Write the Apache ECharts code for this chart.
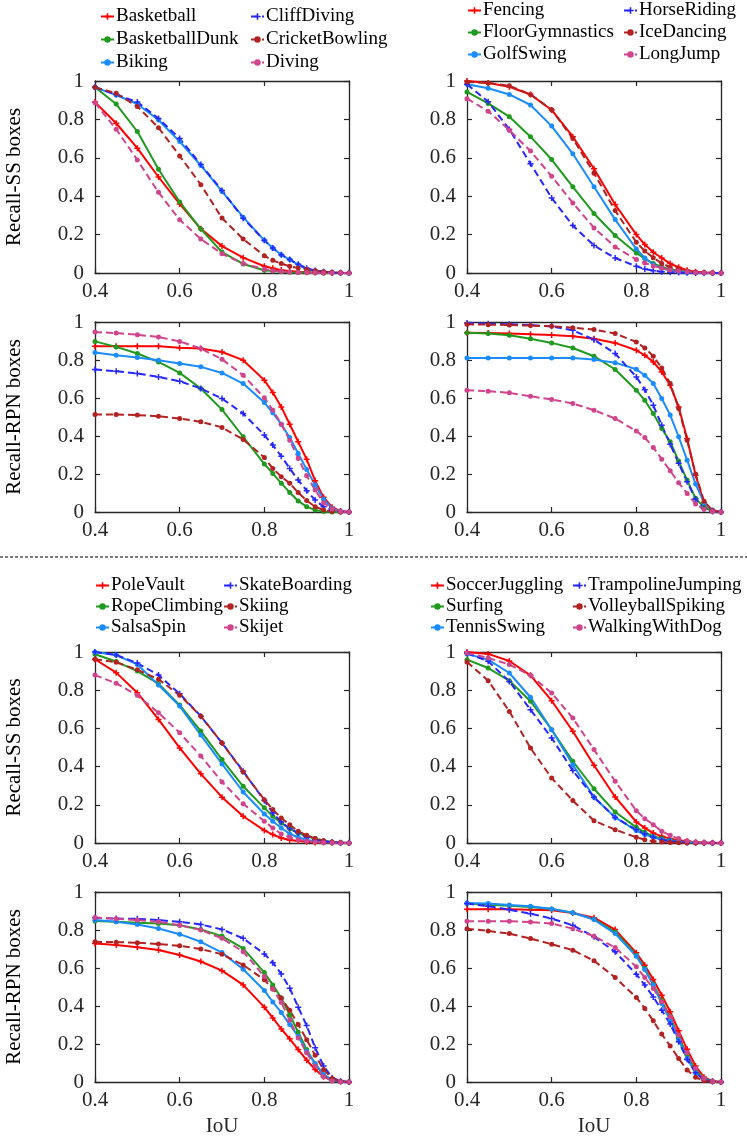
<!DOCTYPE html>
<html>
<head>
    <meta charset="UTF-8">
    <title>Recall vs IoU</title>
    <script type="text/javascript" src="https://cdn.jsdelivr.net/npm/echarts/dist/echarts.min.js"></script>
</head>
<body style="margin: 0;background: #ffffff;">
<div id="chart" style="width:747px;height:1138px;"></div>
<script>
    // IoU thresholds (x axis samples)
    var iou = [0.4, 0.45, 0.5, 0.55, 0.6, 0.65, 0.7, 0.75, 0.8, 0.82, 0.84, 0.86, 0.88, 0.9, 0.92, 0.94, 0.96, 0.98, 1.0];
    var xTicks = [0.4, 0.6, 0.8, 1];
    var yTicks = [0, 0.2, 0.4, 0.6, 0.8, 1];

    // class names per block
    var namesA = ['Basketball', 'BasketballDunk', 'Biking', 'CliffDiving', 'CricketBowling', 'Diving'];
    var namesB = ['Fencing', 'FloorGymnastics', 'GolfSwing', 'HorseRiding', 'IceDancing', 'LongJump'];
    var namesC = ['PoleVault', 'RopeClimbing', 'SalsaSpin', 'SkateBoarding', 'Skiing', 'Skijet'];
    var namesD = ['SoccerJuggling', 'Surfing', 'TennisSwing', 'TrampolineJumping', 'VolleyballSpiking', 'WalkingWithDog'];

    var ssA = [
        [0.89, 0.78, 0.65, 0.50, 0.36, 0.23, 0.14, 0.08, 0.035, 0.025, 0.015, 0.01, 0.006, 0.004, 0.002, 0.001, 0, 0, 0],
        [0.967, 0.88, 0.737, 0.54, 0.37, 0.229, 0.109, 0.047, 0.014, 0.01, 0.006, 0.004, 0.003, 0.002, 0.001, 0, 0, 0, 0],
        [0.967, 0.927, 0.88, 0.797, 0.685, 0.56, 0.425, 0.291, 0.17, 0.13, 0.095, 0.07, 0.043, 0.02, 0.012, 0.006, 0.003, 0.001, 0],
        [0.967, 0.93, 0.89, 0.805, 0.70, 0.565, 0.43, 0.285, 0.17, 0.13, 0.095, 0.07, 0.045, 0.025, 0.013, 0.007, 0.003, 0.001, 0],
        [0.967, 0.936, 0.867, 0.757, 0.61, 0.46, 0.286, 0.177, 0.09, 0.066, 0.049, 0.035, 0.026, 0.018, 0.012, 0.007, 0.004, 0.002, 0],
        [0.887, 0.749, 0.589, 0.42, 0.277, 0.177, 0.1, 0.049, 0.02, 0.012, 0.008, 0.005, 0.003, 0.002, 0.001, 0, 0, 0, 0]
    ];
    var rpnA = [
        [0.872, 0.872, 0.872, 0.872, 0.865, 0.86, 0.842, 0.799, 0.694, 0.629, 0.553, 0.462, 0.37, 0.277, 0.165, 0.077, 0.025, 0.005, 0],
        [0.898, 0.869, 0.834, 0.79, 0.732, 0.65, 0.539, 0.396, 0.252, 0.203, 0.151, 0.103, 0.058, 0.028, 0.01, 0.002, 0, 0, 0],
        [0.839, 0.825, 0.813, 0.799, 0.781, 0.764, 0.732, 0.676, 0.576, 0.522, 0.462, 0.392, 0.308, 0.224, 0.142, 0.067, 0.019, 0.003, 0],
        [0.75, 0.741, 0.729, 0.711, 0.688, 0.65, 0.597, 0.518, 0.405, 0.352, 0.294, 0.229, 0.168, 0.112, 0.063, 0.028, 0.01, 0.002, 0],
        [0.513, 0.513, 0.51, 0.504, 0.492, 0.475, 0.445, 0.382, 0.287, 0.229, 0.186, 0.151, 0.102, 0.06, 0.028, 0.01, 0.003, 0, 0],
        [0.947, 0.942, 0.933, 0.921, 0.898, 0.86, 0.804, 0.72, 0.601, 0.536, 0.462, 0.378, 0.282, 0.191, 0.116, 0.049, 0.016, 0.003, 0]
    ];
    var ssB = [
        [1.0, 0.99, 0.97, 0.93, 0.849, 0.71, 0.543, 0.357, 0.2, 0.148, 0.108, 0.078, 0.049, 0.03, 0.014, 0.007, 0.003, 0.001, 0],
        [0.943, 0.883, 0.814, 0.71, 0.591, 0.449, 0.31, 0.195, 0.104, 0.075, 0.05, 0.032, 0.02, 0.012, 0.006, 0.003, 0.001, 0, 0],
        [0.983, 0.962, 0.93, 0.875, 0.765, 0.621, 0.449, 0.278, 0.125, 0.078, 0.043, 0.025, 0.013, 0.007, 0.003, 0.001, 0, 0, 0],
        [0.983, 0.892, 0.748, 0.569, 0.391, 0.247, 0.143, 0.078, 0.035, 0.021, 0.012, 0.007, 0.004, 0.002, 0.001, 0, 0, 0, 0],
        [0.995, 0.99, 0.975, 0.93, 0.85, 0.70, 0.52, 0.325, 0.16, 0.115, 0.08, 0.05, 0.03, 0.02, 0.01, 0.005, 0.002, 0.001, 0],
        [0.908, 0.843, 0.744, 0.635, 0.504, 0.365, 0.235, 0.136, 0.07, 0.052, 0.037, 0.025, 0.016, 0.01, 0.006, 0.003, 0.001, 0, 0]
    ];
    var rpnB = [
        [0.944, 0.942, 0.939, 0.935, 0.932, 0.925, 0.912, 0.89, 0.851, 0.825, 0.79, 0.737, 0.667, 0.553, 0.387, 0.194, 0.049, 0.007, 0],
        [0.944, 0.939, 0.93, 0.912, 0.89, 0.863, 0.82, 0.75, 0.641, 0.588, 0.518, 0.44, 0.37, 0.268, 0.168, 0.072, 0.025, 0.004, 0],
        [0.811, 0.811, 0.811, 0.811, 0.811, 0.81, 0.802, 0.786, 0.751, 0.72, 0.676, 0.597, 0.51, 0.396, 0.273, 0.147, 0.049, 0.01, 0],
        [0.995, 0.991, 0.988, 0.984, 0.977, 0.956, 0.907, 0.834, 0.711, 0.644, 0.562, 0.457, 0.357, 0.256, 0.159, 0.068, 0.019, 0.003, 0],
        [0.988, 0.986, 0.984, 0.981, 0.977, 0.97, 0.96, 0.939, 0.895, 0.863, 0.82, 0.758, 0.676, 0.545, 0.378, 0.2, 0.056, 0.008, 0],
        [0.641, 0.636, 0.627, 0.609, 0.592, 0.571, 0.536, 0.492, 0.426, 0.392, 0.34, 0.278, 0.217, 0.154, 0.098, 0.042, 0.014, 0.002, 0]
    ];
    var ssC = [
        [0.962, 0.892, 0.787, 0.647, 0.498, 0.362, 0.24, 0.14, 0.066, 0.044, 0.026, 0.016, 0.01, 0.006, 0.003, 0.002, 0.001, 0, 0],
        [0.988, 0.95, 0.9, 0.834, 0.722, 0.586, 0.437, 0.297, 0.184, 0.14, 0.105, 0.075, 0.052, 0.035, 0.023, 0.012, 0.005, 0.002, 0],
        [1.0, 0.984, 0.935, 0.827, 0.717, 0.565, 0.414, 0.267, 0.152, 0.114, 0.079, 0.047, 0.03, 0.016, 0.009, 0.004, 0.002, 0.001, 0],
        [1.0, 0.984, 0.942, 0.879, 0.781, 0.664, 0.524, 0.376, 0.222, 0.157, 0.11, 0.075, 0.052, 0.03, 0.017, 0.009, 0.004, 0.001, 0],
        [0.962, 0.946, 0.907, 0.857, 0.774, 0.664, 0.524, 0.372, 0.227, 0.175, 0.131, 0.096, 0.061, 0.04, 0.023, 0.012, 0.005, 0.002, 0],
        [0.879, 0.836, 0.773, 0.682, 0.577, 0.455, 0.32, 0.206, 0.114, 0.079, 0.047, 0.03, 0.017, 0.009, 0.005, 0.003, 0.001, 0, 0]
    ];
    var rpnC = [
        [0.729, 0.721, 0.709, 0.695, 0.668, 0.634, 0.586, 0.511, 0.394, 0.337, 0.279, 0.227, 0.171, 0.115, 0.066, 0.028, 0.009, 0.002, 0],
        [0.848, 0.843, 0.838, 0.834, 0.825, 0.803, 0.768, 0.703, 0.576, 0.511, 0.442, 0.354, 0.262, 0.171, 0.096, 0.038, 0.01, 0.002, 0],
        [0.852, 0.843, 0.829, 0.808, 0.778, 0.738, 0.681, 0.593, 0.482, 0.421, 0.366, 0.302, 0.241, 0.162, 0.096, 0.04, 0.01, 0.002, 0],
        [0.864, 0.86, 0.859, 0.852, 0.843, 0.829, 0.803, 0.756, 0.674, 0.628, 0.569, 0.494, 0.394, 0.297, 0.18, 0.084, 0.023, 0.004, 0],
        [0.738, 0.736, 0.733, 0.726, 0.717, 0.70, 0.672, 0.616, 0.538, 0.489, 0.442, 0.377, 0.302, 0.223, 0.141, 0.066, 0.019, 0.003, 0],
        [0.866, 0.859, 0.852, 0.843, 0.825, 0.80, 0.756, 0.686, 0.555, 0.489, 0.419, 0.325, 0.232, 0.154, 0.084, 0.028, 0.005, 0.001, 0]
    ];
    var ssD = [
        [1.0, 0.99, 0.953, 0.878, 0.745, 0.585, 0.407, 0.241, 0.11, 0.079, 0.052, 0.035, 0.023, 0.014, 0.009, 0.004, 0.002, 0.001, 0],
        [0.96, 0.916, 0.85, 0.742, 0.593, 0.428, 0.284, 0.162, 0.082, 0.056, 0.035, 0.023, 0.014, 0.009, 0.005, 0.003, 0.001, 0, 0],
        [0.99, 0.96, 0.89, 0.763, 0.593, 0.41, 0.24, 0.134, 0.065, 0.044, 0.03, 0.017, 0.012, 0.007, 0.004, 0.002, 0.001, 0, 0],
        [0.995, 0.951, 0.846, 0.698, 0.55, 0.379, 0.239, 0.134, 0.07, 0.047, 0.03, 0.017, 0.009, 0.005, 0.003, 0.001, 0, 0, 0],
        [0.948, 0.85, 0.689, 0.497, 0.34, 0.222, 0.117, 0.07, 0.03, 0.017, 0.009, 0.005, 0.003, 0.001, 0, 0, 0, 0, 0],
        [0.995, 0.969, 0.934, 0.878, 0.785, 0.654, 0.489, 0.323, 0.169, 0.127, 0.096, 0.061, 0.04, 0.023, 0.012, 0.005, 0.002, 0.001, 0]
    ];
    var rpnD = [
        [0.909, 0.909, 0.909, 0.907, 0.904, 0.89, 0.865, 0.802, 0.68, 0.615, 0.539, 0.457, 0.37, 0.27, 0.172, 0.084, 0.025, 0.004, 0],
        [0.939, 0.933, 0.928, 0.921, 0.911, 0.891, 0.856, 0.79, 0.667, 0.597, 0.515, 0.427, 0.343, 0.238, 0.142, 0.063, 0.019, 0.003, 0],
        [0.942, 0.939, 0.932, 0.925, 0.911, 0.891, 0.855, 0.781, 0.662, 0.592, 0.51, 0.413, 0.326, 0.221, 0.124, 0.049, 0.014, 0.002, 0],
        [0.939, 0.925, 0.907, 0.886, 0.86, 0.825, 0.764, 0.685, 0.567, 0.51, 0.448, 0.378, 0.305, 0.212, 0.119, 0.049, 0.011, 0.002, 0],
        [0.807, 0.795, 0.781, 0.755, 0.725, 0.694, 0.638, 0.55, 0.445, 0.387, 0.322, 0.252, 0.189, 0.124, 0.063, 0.025, 0.007, 0.001, 0],
        [0.846, 0.846, 0.846, 0.842, 0.834, 0.807, 0.767, 0.708, 0.606, 0.55, 0.492, 0.422, 0.343, 0.247, 0.154, 0.072, 0.019, 0.003, 0]
    ];

    var colors = ['#ff0000', '#1f9a1f', '#1a8cff', '#2626ff', '#b22222', '#d0448c'];
    var plus = 'path://M-1,-4H1V-1H4V1H1V4H-1V1H-4V-1H-1Z';
    var font = 'Liberation Serif';
    var axisColor = '#262626';

    // panel layout: [data, names, row, col]
    var panels = [
        [ssA, namesA, 0, 0], [ssB, namesB, 0, 1],
        [rpnA, namesA, 1, 0], [rpnB, namesB, 1, 1],
        [ssC, namesC, 2, 0], [ssD, namesD, 2, 1],
        [rpnC, namesC, 3, 0], [rpnD, namesD, 3, 1]
    ];
    var cols = [{left: 95, right: 398}, {left: 467, right: 26}];
    var rows = [{top: 81, height: 192}, {top: 322, height: 190}, {top: 652, height: 191}, {top: 892, height: 190}];
    var yNames = ['Recall-SS boxes', 'Recall-RPN boxes', 'Recall-SS boxes', 'Recall-RPN boxes'];

    function fmt(v) {
        return String(+v.toFixed(1));
    }

    var grids = [], xAxes = [], yAxes = [], series = [];
    panels.forEach(function (p, i) {
        var data = p[0], names = p[1], r = p[2], c = p[3];
        grids.push({left: cols[c].left, right: cols[c].right, top: rows[r].top, height: rows[r].height});
        var lineCfg = {show: true, onZero: false, lineStyle: {color: axisColor, width: 1.3}};
        var tickCfg = {show: true, inside: true, length: 5, lineStyle: {color: axisColor, width: 1.2}};
        xAxes.push({
            type: 'value', gridIndex: i, min: 0.4, max: 1, interval: 0.2, position: 'bottom',
            axisLine: lineCfg, axisTick: tickCfg, splitLine: {show: false},
            axisLabel: {fontFamily: font, fontSize: 21, color: axisColor, margin: 8, formatter: fmt},
            name: r === 3 ? 'IoU' : '', nameLocation: 'middle', nameGap: 34,
            nameTextStyle: {fontFamily: font, fontSize: 21, color: axisColor}
        });
        xAxes.push({
            type: 'value', gridIndex: i, min: 0.4, max: 1, interval: 0.2, position: 'top',
            axisLine: lineCfg, axisTick: tickCfg, splitLine: {show: false}, axisLabel: {show: false}
        });
        yAxes.push({
            type: 'value', gridIndex: i, min: 0, max: 1, interval: 0.2, position: 'left',
            axisLine: lineCfg, axisTick: tickCfg, splitLine: {show: false},
            axisLabel: {fontFamily: font, fontSize: 21, color: axisColor, margin: 11, formatter: fmt},
            name: c === 0 ? yNames[r] : '', nameLocation: 'middle', nameGap: 70,
            nameTextStyle: {fontFamily: font, fontSize: 21, color: '#000'}
        });
        yAxes.push({
            type: 'value', gridIndex: i, min: 0, max: 1, interval: 0.2, position: 'right',
            axisLine: lineCfg, axisTick: tickCfg, splitLine: {show: false}, axisLabel: {show: false}
        });
        data.forEach(function (vals, k) {
            var pts = iou.map(function (x, j) { return [x, vals[j]]; });
            var isPlus = (k === 0 || k === 3);
            series.push({
                name: names[k], type: 'line', xAxisIndex: 2 * i, yAxisIndex: 2 * i,
                data: pts, smooth: false,
                symbol: isPlus ? plus : 'circle', symbolSize: isPlus ? 6 : 5,
                showSymbol: true,
                lineStyle: {color: colors[k], width: 2, type: k >= 3 ? [7, 4] : 'solid'},
                itemStyle: {color: colors[k]},
                emphasis: {disabled: true}
            });
        });
    });

    // legends: two columns of three above each top panel
    function legend(names, left, top, gap) {
        return {
            orient: 'vertical', left: left, top: top, padding: 0,
            itemWidth: 13, itemHeight: 8, itemGap: gap,
            selectedMode: false, data: names,
            textStyle: {fontFamily: font, fontSize: 19, color: '#000', lineHeight: 19, padding: [0, 0, 0, -3]}
        };
    }
    var legends = [
        legend(namesA.slice(0, 3), 100, 7, 4), legend(namesA.slice(3), 250, 7, 4),
        legend(namesB.slice(0, 3), 467, 1, 3), legend(namesB.slice(3), 623, 1, 3),
        legend(namesC.slice(0, 3), 95, 576, 2), legend(namesC.slice(3), 223, 576, 2),
        legend(namesD.slice(0, 3), 430, 576, 2), legend(namesD.slice(3), 572, 576, 2)
    ];

    var chart = echarts.init(document.getElementById('chart'));
    chart.setOption({
        animation: false,
        backgroundColor: '#ffffff',
        grid: grids,
        xAxis: xAxes,
        yAxis: yAxes,
        legend: legends,
        series: series,
        graphic: [{
            type: 'line',
            shape: {x1: 0, y1: 557, x2: 747, y2: 557},
            style: {stroke: '#000', lineWidth: 1.2, lineDash: [3, 2]}
        }]
    });
</script>
</body>
</html>
